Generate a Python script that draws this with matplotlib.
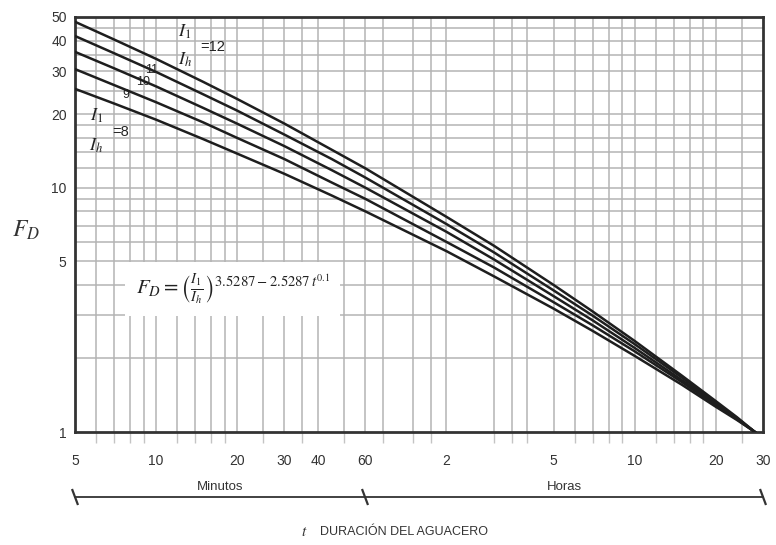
import numpy as np
import matplotlib.pyplot as plt
from matplotlib.markers import MarkerStyle
from matplotlib.transforms import Affine2D, blended_transform_factory
from matplotlib.ticker import FixedLocator, NullFormatter, NullLocator

plt.rcParams['font.family'] = ['Liberation Sans', 'DejaVu Sans']
plt.rcParams['mathtext.fontset'] = 'stix'

# ---- data ----
duration_min = [5, 7, 10, 15, 20, 30, 45, 60, 120, 180, 300, 420, 600, 900, 1200, 1440, 1680]
ratios = [8, 9, 10, 11, 12]
F_8 = [25.4, 22.1, 19.0, 15.8, 13.8, 11.4, 9.29, 8.0, 5.5, 4.34, 3.2, 2.59, 2.05, 1.56, 1.27, 1.12, 1.0]
F_9 = [30.6, 26.3, 22.4, 18.5, 16.0, 13.1, 10.5, 9.0, 6.0, 4.72, 3.4, 2.73, 2.14, 1.60, 1.29, 1.13, 1.0]
F_10 = [36.0, 30.8, 26.0, 21.2, 18.3, 14.8, 11.8, 10.0, 6.6, 5.09, 3.6, 2.86, 2.21, 1.63, 1.31, 1.13, 1.0]
F_11 = [41.8, 35.5, 29.8, 24.1, 20.7, 16.5, 13.1, 11.0, 7.1, 5.44, 3.8, 2.99, 2.29, 1.67, 1.32, 1.14, 1.0]
F_12 = [47.8, 40.4, 33.7, 27.1, 23.1, 18.3, 14.3, 12.0, 7.6, 5.79, 4.0, 3.11, 2.36, 1.70, 1.34, 1.15, 1.0]
series = [F_8, F_9, F_10, F_11, F_12]

x_tick_pos = [5, 10, 20, 30, 40, 60, 120, 300, 600, 1200, 1800]
x_tick_labels = ['5', '10', '20', '30', '40', '60', '2', '5', '10', '20', '30']
y_tick_pos = [1, 5, 10, 20, 30, 40, 50]
y_tick_labels = ['1', '5', '10', '20', '30', '40', '50']

x_grid = [6, 7, 8, 9, 10, 12, 14, 16, 18, 20, 25, 30, 35, 40, 50, 60, 70, 90, 105,
          120, 180, 210, 240, 300, 360, 420, 480, 540, 600, 720, 840, 960, 1080,
          1200, 1500]
y_grid = [2, 3, 4, 5, 6, 7, 8, 9, 10, 12, 14, 16, 18, 20, 25, 30, 35, 40, 45]

# ---- figure ----
fig = plt.figure(figsize=(7.76, 5.45), dpi=100)
ax = fig.add_axes([75 / 776, 113 / 545, 688 / 776, 415 / 545])
ax.set_xscale('log')
ax.set_yscale('log')
ax.set_xlim(5, 1800)
ax.set_ylim(1, 50)

for gx in x_grid:
    ax.axvline(gx, color='#b4b4b4', lw=1.1, zorder=1)
for gy in y_grid:
    ax.axhline(gy, color='#b4b4b4', lw=1.1, zorder=1)

for f in series:
    ax.plot(duration_min, f, color='#1e1e1e', lw=1.8, zorder=3)

ax.xaxis.set_major_locator(FixedLocator(x_tick_pos))
ax.set_xticklabels(x_tick_labels)
ax.xaxis.set_minor_locator(FixedLocator(x_grid))
ax.xaxis.set_minor_formatter(NullFormatter())
ax.yaxis.set_major_locator(FixedLocator(y_tick_pos))
ax.set_yticklabels(y_tick_labels)
ax.yaxis.set_minor_locator(NullLocator())
ax.tick_params(axis='x', which='major', length=0, pad=16, labelsize=10, labelcolor='#333333')
ax.tick_params(axis='x', which='minor', length=8, width=1.0, color='#c4c4c4')
ax.tick_params(axis='y', which='major', length=0, pad=6, labelsize=10, labelcolor='#333333')

for s in ax.spines.values():
    s.set_linewidth(2.0)
    s.set_color('#333333')

# line labels
tx = dict(transform=ax.transAxes, fontsize=13, color='#222222', zorder=5)
ax.text(0.150, 0.965, r'$I_1$', ha='left', va='center', **tx)
ax.text(0.150, 0.897, r'$I_h$', ha='left', va='center', **tx)
ax.text(0.182, 0.928, '=12', ha='left', va='center', fontsize=10.5, color='#222222',
        transform=ax.transAxes, zorder=5)
ax.text(0.112, 0.872, '11', ha='center', va='center', fontsize=9, color='#222222',
        transform=ax.transAxes, zorder=5)
ax.text(0.099, 0.843, '10', ha='center', va='center', fontsize=9, color='#222222',
        transform=ax.transAxes, zorder=5)
ax.text(0.074, 0.812, '9', ha='center', va='center', fontsize=9, color='#222222',
        transform=ax.transAxes, zorder=5)
ax.text(0.022, 0.762, r'$I_1$', ha='left', va='center', **tx)
ax.text(0.020, 0.690, r'$I_h$', ha='left', va='center', **tx)
ax.text(0.054, 0.723, '=8', ha='left', va='center', fontsize=10.5, color='#222222',
        transform=ax.transAxes, zorder=5)

# formula with white backing
ax.text(0.088, 0.345,
        r'$F_D = \left(\frac{I_1}{I_h}\right)^{3.5287-2.5287\,t^{0.1}}$',
        transform=ax.transAxes, ha='left', va='center', fontsize=15, color='#222222',
        zorder=4,
        bbox=dict(boxstyle='square,pad=0.5', facecolor='white', edgecolor='none'))

# y label
fig.text(0.033, 0.578, r'$F_D$', fontsize=17, ha='center', va='center', color='#333333')

# bracket under x-axis
bt = blended_transform_factory(ax.transData, ax.transAxes)
yb = -0.157
ax.plot([5, 1800], [yb, yb], color='#333333', lw=1.3, transform=bt, clip_on=False)
mk = MarkerStyle('|', transform=Affine2D().rotate_deg(20))
ax.plot([5, 60, 1800], [yb, yb, yb], linestyle='none', marker=mk, markersize=13,
        markeredgewidth=1.6, color='#333333', transform=bt, clip_on=False)

fig.text(0.2835, 0.1064, 'Minutos', ha='center', va='center', fontsize=9.5, color='#333333')
fig.text(0.728, 0.1064, 'Horas', ha='center', va='center', fontsize=9.5, color='#333333')
fig.text(0.392, 0.024, r'$t$', ha='center', va='center', fontsize=11, color='#333333')
fig.text(0.412, 0.024, 'DURACIÓN DEL AGUACERO', ha='left', va='center', fontsize=9,
         color='#333333')

fig.savefig('out.png', dpi=100)
